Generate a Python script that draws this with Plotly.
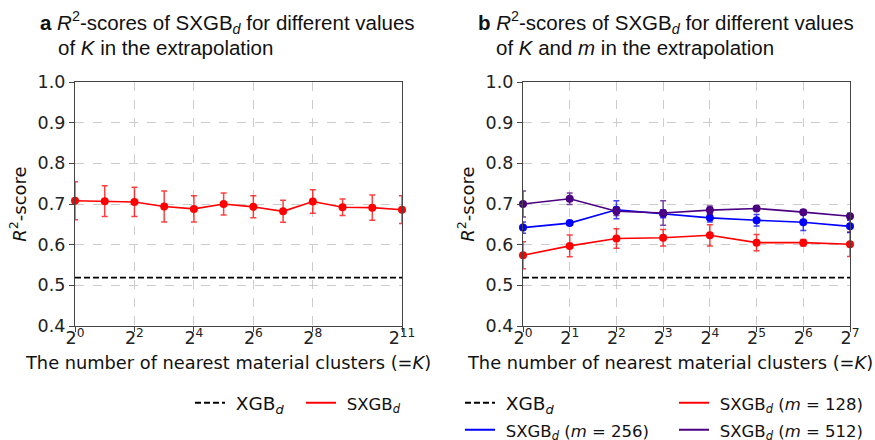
import math
import plotly.graph_objects as go

# ---------------- data ----------------
K_a = [1, 2, 4, 8, 16, 32, 64, 128, 256, 512, 1024, 2048]
sxgb_a = [0.708, 0.707, 0.705, 0.694, 0.688, 0.700, 0.693, 0.682, 0.706, 0.692, 0.691, 0.686]
sxgb_a_err = [0.047, 0.038, 0.036, 0.038, 0.032, 0.027, 0.027, 0.027, 0.029, 0.020, 0.031, 0.034]
xgb_d = 0.519

K_b = [1, 2, 4, 8, 16, 32, 64, 128]
m128 = [0.574, 0.597, 0.615, 0.617, 0.623, 0.605, 0.605, 0.601]
m128_err = [0.033, 0.027, 0.024, 0.020, 0.026, 0.020, 0.008, 0.030]
m256 = [0.642, 0.653, 0.686, 0.676, 0.666, 0.660, 0.655, 0.645]
m256_err = [0.014, 0.005, 0.022, 0.010, 0.010, 0.014, 0.020, 0.015]
m512 = [0.700, 0.713, 0.682, 0.678, 0.685, 0.689, 0.680, 0.670]
m512_err = [0.032, 0.014, 0.010, 0.030, 0.010, 0.005, 0.005, 0.007]

ticks_a = [1, 4, 16, 64, 256, 2048]
ticks_b = K_b
y_ticks = [0.4, 0.5, 0.6, 0.7, 0.8, 0.9, 1.0]

# ---------------- styles ----------------
W, H = 875, 440
SANS = "DejaVu Sans"
ARIAL = "Liberation Sans"
RED = "#ff0000"
BLUE = "#0000ff"
PURPLE = "#4b0082"


def tick_text(vals):
    return [f"2<sup>{int(round(math.log2(v)))}</sup>" for v in vals]


XGB_NAME = "&nbsp;<span style='font-size:18.5px'>XGB<sub><i>d</i></sub></span>"


def sx(m=None):
    base = "SXGB<sub><i>d</i></sub>"
    if m is not None:
        base += f" (<i>m</i>&nbsp;=&nbsp;{m})"
    return f"&nbsp;<span style='font-size:16.5px'>{base}</span>"


fig = go.Figure()


def data_trace(x, y, err, color, err_rgba, xa, ya):
    fig.add_trace(go.Scatter(
        x=x, y=y, mode="lines+markers",
        line=dict(color=color, width=1.6), marker=dict(color=color, size=8),
        error_y=dict(type="data", array=err, color=err_rgba, thickness=1.5, width=3),
        showlegend=False, xaxis=xa, yaxis=ya, cliponaxis=False))


def base_trace(x, xa, ya):
    fig.add_trace(go.Scatter(
        x=[x[0], x[-1]], y=[xgb_d, xgb_d], mode="lines",
        line=dict(color="black", dash="6px,3px", width=1.6),
        showlegend=False, xaxis=xa, yaxis=ya, cliponaxis=False))


def legend_entry(name, color, dash, legend, rank, xa, ya):
    fig.add_trace(go.Scatter(
        x=[None], y=[None], mode="lines",
        line=dict(color=color, dash=dash, width=2),
        name=name, legend=legend, legendrank=rank, showlegend=True,
        xaxis=xa, yaxis=ya))


# panel a
base_trace(K_a, "x", "y")
data_trace(K_a, sxgb_a, sxgb_a_err, RED, "rgba(255,0,0,0.75)", "x", "y")
legend_entry(XGB_NAME, "black", "6px,3px", "legend", 1, "x", "y")
legend_entry(sx(), RED, "solid", "legend", 2, "x", "y")

# panel b
base_trace(K_b, "x2", "y2")
data_trace(K_b, m128, m128_err, RED, "rgba(255,0,0,0.75)", "x2", "y2")
data_trace(K_b, m256, m256_err, BLUE, "rgba(0,0,255,0.75)", "x2", "y2")
data_trace(K_b, m512, m512_err, PURPLE, "rgba(75,0,130,0.75)", "x2", "y2")
legend_entry(XGB_NAME, "black", "6px,3px", "legend2", 1, "x2", "y2")
legend_entry(sx(128), RED, "solid", "legend2", 2, "x2", "y2")
legend_entry(sx(256), BLUE, "solid", "legend3", 3, "x2", "y2")
legend_entry(sx(512), PURPLE, "solid", "legend3", 4, "x2", "y2")

ydom = [1 - 326 / H, 1 - 82 / H]
common_x = dict(
    type="log", showline=True, linecolor="#444444", linewidth=1.2, mirror=True,
    ticks="outside", ticklen=5, tickcolor="#444444",
    showgrid=True, gridcolor="#cccccc", griddash="dash", gridwidth=1,
    tickfont=dict(family=SANS, size=17.5, color="#222"),
    ticklabelstandoff=-9,
    zeroline=False, automargin=False,
)
common_y = dict(
    range=[0.4, 1.0], tickvals=y_ticks, tickformat=".1f",
    showline=True, linecolor="#444444", linewidth=1.2, mirror=True,
    ticks="outside", ticklen=5, tickcolor="#444444",
    showgrid=True, gridcolor="#cccccc", griddash="dash", gridwidth=1,
    tickfont=dict(family=SANS, size=17.5, color="#222"),
    title=dict(text="<i>R</i><sup>2</sup>-score", font=dict(family=SANS, size=18, color="#111"), standoff=6),
    zeroline=False, automargin=False,
)

legend_common = dict(
    orientation="h", xref="container", yref="container",
    xanchor="left", yanchor="middle",
    font=dict(family=SANS, size=18, color="#111"), itemwidth=30,
    bgcolor="rgba(0,0,0,0)",
)

fig.update_layout(
    width=W, height=H, margin=dict(l=0, r=0, t=0, b=0, autoexpand=False),
    paper_bgcolor="white", plot_bgcolor="white",
    xaxis=dict(common_x, domain=[75 / W, 402 / W], range=[0, math.log10(K_a[-1])],
               tickvals=ticks_a, ticktext=tick_text(ticks_a), anchor="y"),
    yaxis=dict(common_y, domain=ydom, anchor="x"),
    xaxis2=dict(common_x, domain=[523 / W, 850 / W], range=[0, math.log10(K_b[-1])],
                tickvals=ticks_b, ticktext=tick_text(ticks_b), anchor="y2"),
    yaxis2=dict(common_y, domain=ydom, anchor="x2"),
    legend=dict(legend_common, x=190 / W, y=1 - 403 / H,
                entrywidth=66, entrywidthmode="pixels"),
    legend2=dict(legend_common, x=460 / W, y=1 - 403 / H,
                 entrywidth=169, entrywidthmode="pixels"),
    legend3=dict(legend_common, x=460 / W, y=1 - 430 / H,
                 entrywidth=169, entrywidthmode="pixels"),
    showlegend=True,
)

title_font = dict(family=ARIAL, size=20.5, color="#111")
annos = [
    (38, 22, "<b>a</b> <i>R</i><sup>2</sup>-scores of SXGB<sub><i>d</i></sub> for different values"),
    (56, 47, "of <i>K</i> in the extrapolation"),
    (476, 22, "<b>b</b> <i>R</i><sup>2</sup>-scores of SXGB<sub><i>d</i></sub> for different values"),
    (494, 47, "of <i>K</i> and <i>m</i> in the extrapolation"),
]
for ax, ay, txt in annos:
    fig.add_annotation(x=ax / W, y=1 - ay / H, xref="paper", yref="paper",
                       xanchor="left", yanchor="middle", showarrow=False,
                       text=txt, font=title_font, align="left")

xtitle = "The number of nearest material clusters (=<i>K</i>)"
for cx in (228, 670):
    fig.add_annotation(x=cx / W, y=1 - 362 / H, xref="paper", yref="paper",
                       xanchor="center", yanchor="middle", showarrow=False,
                       text=xtitle, font=dict(family=SANS, size=17.8, color="#111"))

fig.write_html("out.html")
